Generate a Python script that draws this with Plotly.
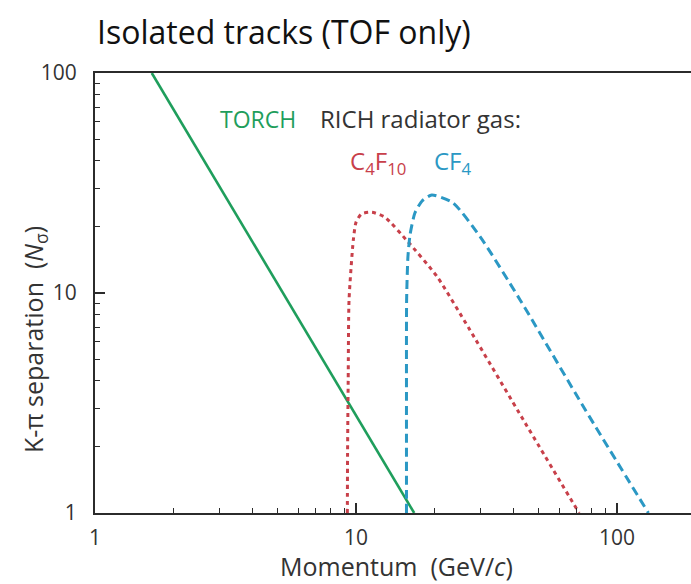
import plotly.graph_objects as go

# Momentum (GeV/c) and K-pi separation (N sigma) for each detector
torch_p = [1.65, 16.7]
torch_n = [100.0, 1.0]

c4f10_p = [9.26, 9.28, 9.33, 9.40, 9.76, 10.0, 10.5, 11.5, 12.9, 15.8, 20.4, 27.3, 44.4, 71.5]
c4f10_n = [1.0, 1.93, 4.02, 9.3, 17.4, 21.0, 22.9, 23.3, 22.1, 17.1, 11.9, 6.79, 2.57, 1.0]

cf4_p = [15.6, 15.6, 15.62, 15.8, 16.1, 16.8, 17.9, 19.5, 23.5, 29.9, 42.5, 74.8, 131.8]
cf4_n = [1.0, 3.26, 9.3, 14.6, 18.4, 23.1, 26.2, 27.9, 25.7, 18.0, 9.3, 3.0, 1.0]

major_vals = [1, 10, 100]
major_text = ["1", "10", "100"]
minor_vals = [2, 3, 4, 5, 6, 7, 8, 9, 20, 30, 40, 50, 60, 70, 80, 90, 200]

GREEN = "#1f9e5c"
RED = "#c8404a"
BLUE = "#2b98c4"
INK = "#2b2b2b"
FONT = "Open Sans"

fig = go.Figure()
fig.add_trace(go.Scatter(x=torch_p, y=torch_n, mode="lines",
                         line=dict(color=GREEN, width=2.6), showlegend=False))
fig.add_trace(go.Scatter(x=c4f10_p, y=c4f10_n, mode="lines",
                         line=dict(color=RED, width=3, dash="4px,4px", shape="spline", smoothing=0.6),
                         showlegend=False))
fig.add_trace(go.Scatter(x=cf4_p, y=cf4_n, mode="lines",
                         line=dict(color=BLUE, width=3, dash="9px,5px", shape="spline", smoothing=0.6),
                         showlegend=False))

axis_common = dict(
    type="log", showgrid=False, zeroline=False,
    showline=True, linecolor=INK, linewidth=2,
    ticks="inside", ticklen=10, tickwidth=1.5, tickcolor=INK,
    tickvals=major_vals, ticktext=major_text,
    tickfont=dict(family=FONT, size=21, color="#333333"),
    minor=dict(tickvals=minor_vals, ticks="inside", ticklen=5, tickwidth=1.3,
               tickcolor=INK, showgrid=False),
)

fig.update_layout(
    width=691, height=584,
    margin=dict(l=95, r=0, t=73, b=71),
    paper_bgcolor="white", plot_bgcolor="white",
    xaxis=dict(axis_common, range=[0, 2.283], mirror=True, ticklabelstandoff=5),
    yaxis=dict(axis_common, range=[0, 2], mirror=False, ticklabelstandoff=12),
    font=dict(family=FONT, color=INK),
)

annotations = [
    dict(text="Isolated tracks (TOF only)", x=95, y=32, font=dict(size=32, color="#111111"),
         xanchor="left"),
    dict(text="Momentum  (GeV/<i>c</i>)", x=396, y=566, font=dict(size=25, color="#333333"),
         xanchor="center"),
    dict(text="K-π separation  (<i>N</i><sub>σ</sub>)", x=34, y=340, textangle=-90,
         font=dict(size=25, color="#333333"), xanchor="center"),
    dict(text="TORCH", x=218, y=119, font=dict(size=23, color=GREEN), xanchor="left"),
    dict(text="RICH radiator gas:", x=318, y=119, font=dict(size=24, color="#333333"),
         xanchor="left"),
    dict(text="C<sub>4</sub>F<sub>10</sub>", x=348, y=162, font=dict(size=24, color=RED),
         xanchor="left"),
    dict(text="CF<sub>4</sub>", x=432, y=162, font=dict(size=24, color=BLUE), xanchor="left"),
]
for a in annotations:
    fig.add_annotation(
        text=a["text"], xref="paper", yref="paper",
        x=(a["x"] - 95) / 596, y=(513 - a["y"]) / 440,
        xanchor=a["xanchor"], yanchor="middle", showarrow=False,
        textangle=a.get("textangle", 0), font=dict(family=FONT, **a["font"]),
    )

fig.write_html("out.html")
